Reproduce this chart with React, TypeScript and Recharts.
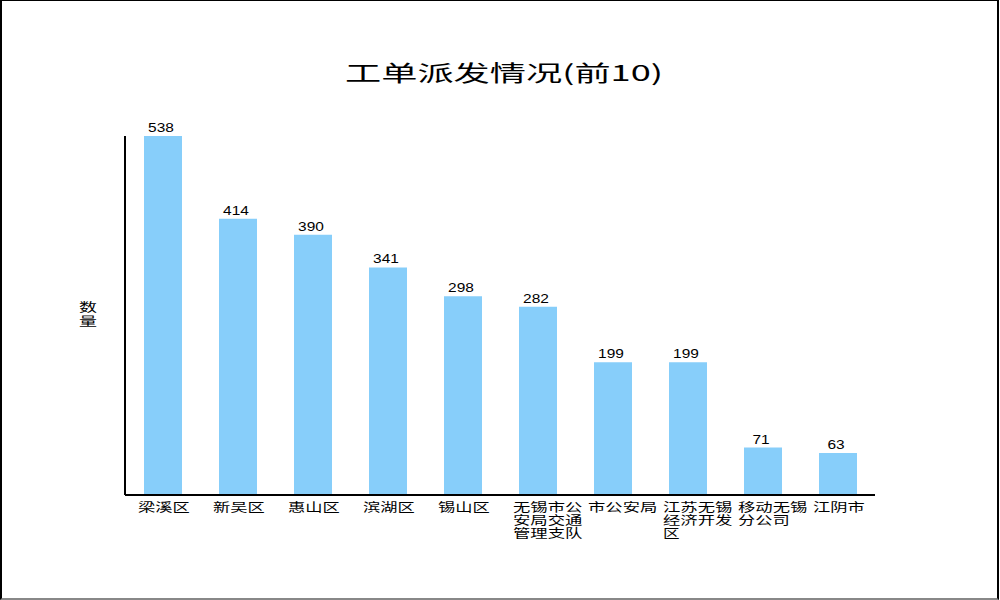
import React from "react"
import { BarChart, Bar, XAxis, YAxis, LabelList } from "recharts"

// top 10 departments by dispatched work orders
const categories = [
  "梁溪区",
  "新吴区",
  "惠山区",
  "滨湖区",
  "锡山区",
  "无锡市公安局交通管理支队",
  "市公安局",
  "江苏无锡经济开发区",
  "移动无锡分公司",
  "江阴市",
]
const counts = [538, 414, 390, 341, 298, 282, 199, 199, 71, 63]

const TITLE = "工单派发情况(前10)"
const Y_LABEL = ["数", "量"]

const data = categories.map((name, i) => ({ name, count: counts[i] }))

const CJK = "'Noto Sans CJK SC', 'Noto Sans', sans-serif"
const LATIN = "'Liberation Sans', Arial, sans-serif"
const CHAR_W = 17.6 // the source image is stretched horizontally

// wrap label into lines of 4 chars, left aligned under the bar
const CategoryTick = (props: any) => {
  const { x, y, payload } = props
  const text: string = payload.value
  const lines: string[] = []
  for (let i = 0; i < text.length; i += 4) lines.push(text.slice(i, i + 4))
  return (
    <text x={x - 24.5} y={y + 17} textAnchor="start" fontSize={12} fontFamily={CJK} fill="#000">
      {lines.map((line, i) => (
        <tspan
          key={i}
          x={x - 24.5}
          dy={i === 0 ? 0 : 13}
          textLength={line.length * CHAR_W - 1}
          lengthAdjust="spacingAndGlyphs"
        >
          {line}
        </tspan>
      ))}
    </text>
  )
}

const ValueLabel = (props: any) => {
  const { x, y, width, value } = props
  const s = String(value)
  return (
    <text
      x={x + width / 2 - 2}
      y={y - 4}
      textAnchor="middle"
      fontSize={13}
      fontFamily={LATIN}
      fill="#000"
      textLength={s.length * 8.6}
      lengthAdjust="spacingAndGlyphs"
    >
      {s}
    </text>
  )
}

export default function App() {
  return (
    <div style={{ position: "absolute", left: 0, top: 0, width: 1000, height: 600, background: "#fff" }}>
      <BarChart
        width={1000}
        height={600}
        data={data}
        margin={{ top: 136, right: 125, left: 121, bottom: 0 }}
        barSize={38}
      >
        <XAxis
          dataKey="name"
          height={105}
          interval={0}
          tickLine={false}
          tickSize={0}
          tickMargin={0}
          axisLine={{ stroke: "#000", strokeWidth: 2 }}
          tick={<CategoryTick />}
        />
        <YAxis
          width={4}
          domain={[0, "dataMax"]}
          tick={false}
          tickLine={false}
          axisLine={{ stroke: "#000", strokeWidth: 2 }}
        />
        <Bar dataKey="count" fill="#87CEFA" isAnimationActive={false}>
          <LabelList dataKey="count" content={<ValueLabel />} />
        </Bar>
      </BarChart>

      {/* title and y axis name */}
      <svg width={1000} height={600} style={{ position: "absolute", left: 0, top: 0, pointerEvents: "none" }}>
        <text
          x={345}
          y={81}
          fontSize={22}
          fontFamily={CJK}
          fill="#000"
          textLength={318}
          lengthAdjust="spacingAndGlyphs"
        >
          {TITLE}
        </text>
        <text x={79} y={312} fontSize={12} fontFamily={CJK} fill="#000">
          {Y_LABEL.map((ch, i) => (
            <tspan key={ch} x={79} dy={i === 0 ? 0 : 14} textLength={18} lengthAdjust="spacingAndGlyphs">
              {ch}
            </tspan>
          ))}
        </text>
      </svg>

      {/* image frame */}
      <div
        style={{
          position: "absolute",
          left: 0,
          top: 0,
          width: 999,
          height: 600,
          boxSizing: "border-box",
          borderTop: "1px solid #000",
          borderLeft: "2px solid #000",
          borderRight: "2px solid #000",
          borderBottom: "2px solid #888",
          pointerEvents: "none",
        }}
      />
    </div>
  )
}
